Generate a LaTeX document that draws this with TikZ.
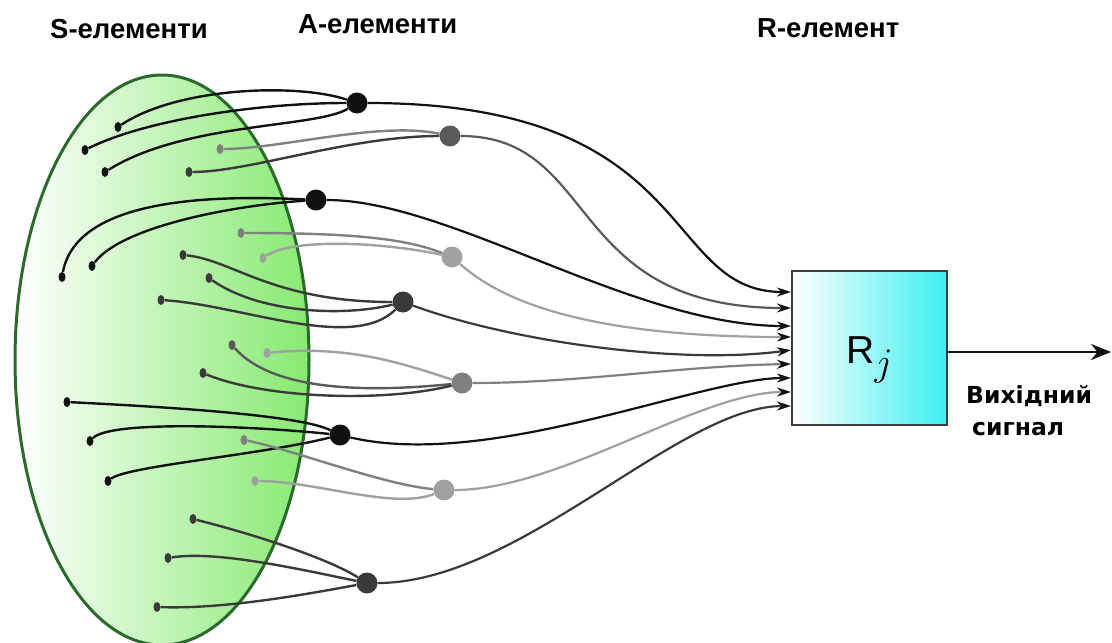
\RequirePackage{fix-cm}
\documentclass[tikz,border=0pt]{standalone}
\usepackage{fontspec}
\setmainfont{Liberation Sans}
\newfontfamily\outfont{DejaVu Sans}
\usetikzlibrary{arrows.meta,shapes.geometric}

\definecolor{ink}{HTML}{111111}
\definecolor{darkink}{HTML}{3A3A3A}
\definecolor{midink}{HTML}{5A5A5A}
\definecolor{grayink}{HTML}{808080}
\definecolor{lightink}{HTML}{A0A0A0}
\definecolor{sgreen}{HTML}{86EA70}
\definecolor{sedge}{HTML}{2A6A2A}
\definecolor{rcyan}{HTML}{3CF0F0}

\begin{document}
\begin{tikzpicture}[x=1pt,y=-1pt,
    sdot/.style={ellipse,fill=#1,minimum width=7pt,minimum height=10pt,inner sep=0pt},
    adot/.style={circle,fill=#1,minimum size=21pt,inner sep=0pt},
    link/.style={draw=#1,line width=2.4pt},
    feed/.style={draw=#1,line width=2.2pt,-{Stealth[length=14pt,width=9pt,color=ink]}},
    header/.style={font=\fontsize{27.5}{33}\selectfont\bfseries,inner sep=0pt,anchor=base west}]
    \useasboundingbox (0,0) rectangle (1112,643);

    % Headers
    \node[header] (shead) at (50,38) {S-елементи};
    \node[header] (ahead) at (298,33) {A-елементи};
    \node[header] (rhead) at (757,37) {R-елемент};

    % Sensor field
    \draw[draw=sedge, line width=3pt, left color=white, right color=sgreen]
        (162,360) ellipse [x radius=147pt, y radius=285pt];

    % S-elements
    \foreach \name/\x/\y/\col in {s1/118/127/ink, s2/85/150/ink, s3/105/172/ink,
        s4/220/149/grayink, s5/189/172/darkink, s6/62/277/ink, s7/92/266/ink,
        s8/241/233/grayink, s9/263/258/lightink, s10/183/255/darkink,
        s11/209/278/darkink, s12/161/300/darkink, s13/232/345/midink,
        s14/267/353/lightink, s15/203/373/darkink, s16/67/402/ink,
        s17/90/441/ink, s18/108/481/ink, s19/244/440/grayink,
        s20/255/481/lightink, s21/193/519/darkink, s22/168/558/darkink,
        s23/157/607/darkink}
        \node[sdot=\col] (\name) at (\x,\y) {};

    % A-elements
    \foreach \name/\x/\y/\col in {a1/357/103/ink, a2/450/136/midink, a3/316/200/ink,
        a4/452/257/lightink, a5/403/302/darkink, a6/462/383/grayink,
        a7/340/435/ink, a8/444/490/lightink, a9/367/583/darkink}
        \node[adot=\col] (\name) at (\x,\y) {};

    % S -> A connections
    \draw[link=ink] (s1) .. controls +(60,-40) and +(-60,-20) .. (a1);
    \draw[link=ink] (s2) .. controls +(60,-30) and +(-100,0) .. (a1);
    \draw[link=ink] (s3) .. controls +(80,-50) and +(-40,25) .. (a1);
    \draw[link=grayink] (s4) .. controls +(60,0) and +(-70,-15) .. (a2);
    \draw[link=darkink] (s5) .. controls +(60,0) and +(-100,0) .. (a2);
    \draw[link=ink] (s6) .. controls +(15,-80) and +(-100,-5) .. (a3);
    \draw[link=ink] (s7) .. controls +(30,-40) and +(-80,5) .. (a3);
    \draw[link=grayink] (s8) .. controls +(100,0) and +(-50,-20) .. (a4);
    \draw[link=lightink] (s9) .. controls +(30,-20) and +(-70,-15) .. (a4);
    \draw[link=darkink] (s10) .. controls +(50,5) and +(-130,0) .. (a5);
    \draw[link=darkink] (s11) .. controls +(50,35) and +(-60,15) .. (a5);
    \draw[link=darkink] (s12) .. controls +(80,5) and +(-50,50) .. (a5);
    \draw[link=midink] (s13) .. controls +(40,45) and +(-100,10) .. (a6);
    \draw[link=lightink] (s14) .. controls +(80,-8) and +(-60,-20) .. (a6);
    \draw[link=darkink] (s15) .. controls +(60,25) and +(-80,20) .. (a6);
    \draw[link=ink] (s16) .. controls +(100,5) and +(-40,-20) .. (a7);
    \draw[link=ink] (s17) .. controls +(20,-20) and +(-100,-10) .. (a7);
    \draw[link=ink] (s18) .. controls +(20,-15) and +(-80,20) .. (a7);
    \draw[link=grayink] (s19) .. controls +(50,10) and +(-60,-5) .. (a8);
    \draw[link=lightink] (s20) .. controls +(60,0) and +(-50,20) .. (a8);
    \draw[link=darkink] (s21) .. controls +(60,15) and +(-40,-25) .. (a9);
    \draw[link=darkink] (s22) .. controls +(50,-8) and +(-60,-12) .. (a9);
    \draw[link=darkink] (s23) .. controls +(60,2) and +(-80,15) .. (a9);

    % R-element
    \node[draw=darkink, line width=2pt, left color=white, right color=rcyan,
        minimum width=155pt, minimum height=154pt, text height=44pt, text depth=14pt,
        font=\fontsize{39}{44}\selectfont] (R) at (869.5,348) {R\raisebox{-12pt}{$j$}};
    \foreach \i/\y in {1/292, 2/308, 3/326, 4/337, 5/350, 6/364, 7/378, 8/392, 9/406}
        \coordinate (rin\i) at (791,\y);

    % A -> R connections
    \draw[feed=ink] (a1) .. controls +(343,0) and +(-131,0) .. (rin1);
    \draw[feed=midink] (a2) .. controls +(150,0) and +(-227,0) .. (rin2);
    \draw[feed=ink] (a3) .. controls +(134,0) and +(-158,0) .. (rin3);
    \draw[feed=lightink] (a4) .. controls +(38,33) and +(-231,0) .. (rin4);
    \draw[feed=darkink] (a5) .. controls +(110,40) and +(-110,15) .. (rin5);
    \draw[feed=grayink] (a6) .. controls +(118,0) and +(-112,2) .. (rin6);
    \draw[feed=ink] (a7) .. controls +(150,35) and +(-90,0) .. (rin7);
    \draw[feed=lightink] (a8) .. controls +(116,0) and +(-92,0) .. (rin8);
    \draw[feed=darkink] (a9) .. controls +(153,0) and +(-112,0) .. (rin9);

    % Output signal
    \coordinate (sig) at (1111,352);
    \draw[ink, line width=2.2pt, -{Stealth[length=20pt,width=16pt]}] ([yshift=-4pt]R.east) -- (sig);
    \node[font=\outfont\bfseries\fontsize{23.5}{32}\selectfont, align=left,
        anchor=north west, inner sep=0pt] (sigtext) at (966,385) {Вихідний\\\hspace*{6pt}сигнал};
\end{tikzpicture}
\end{document}
